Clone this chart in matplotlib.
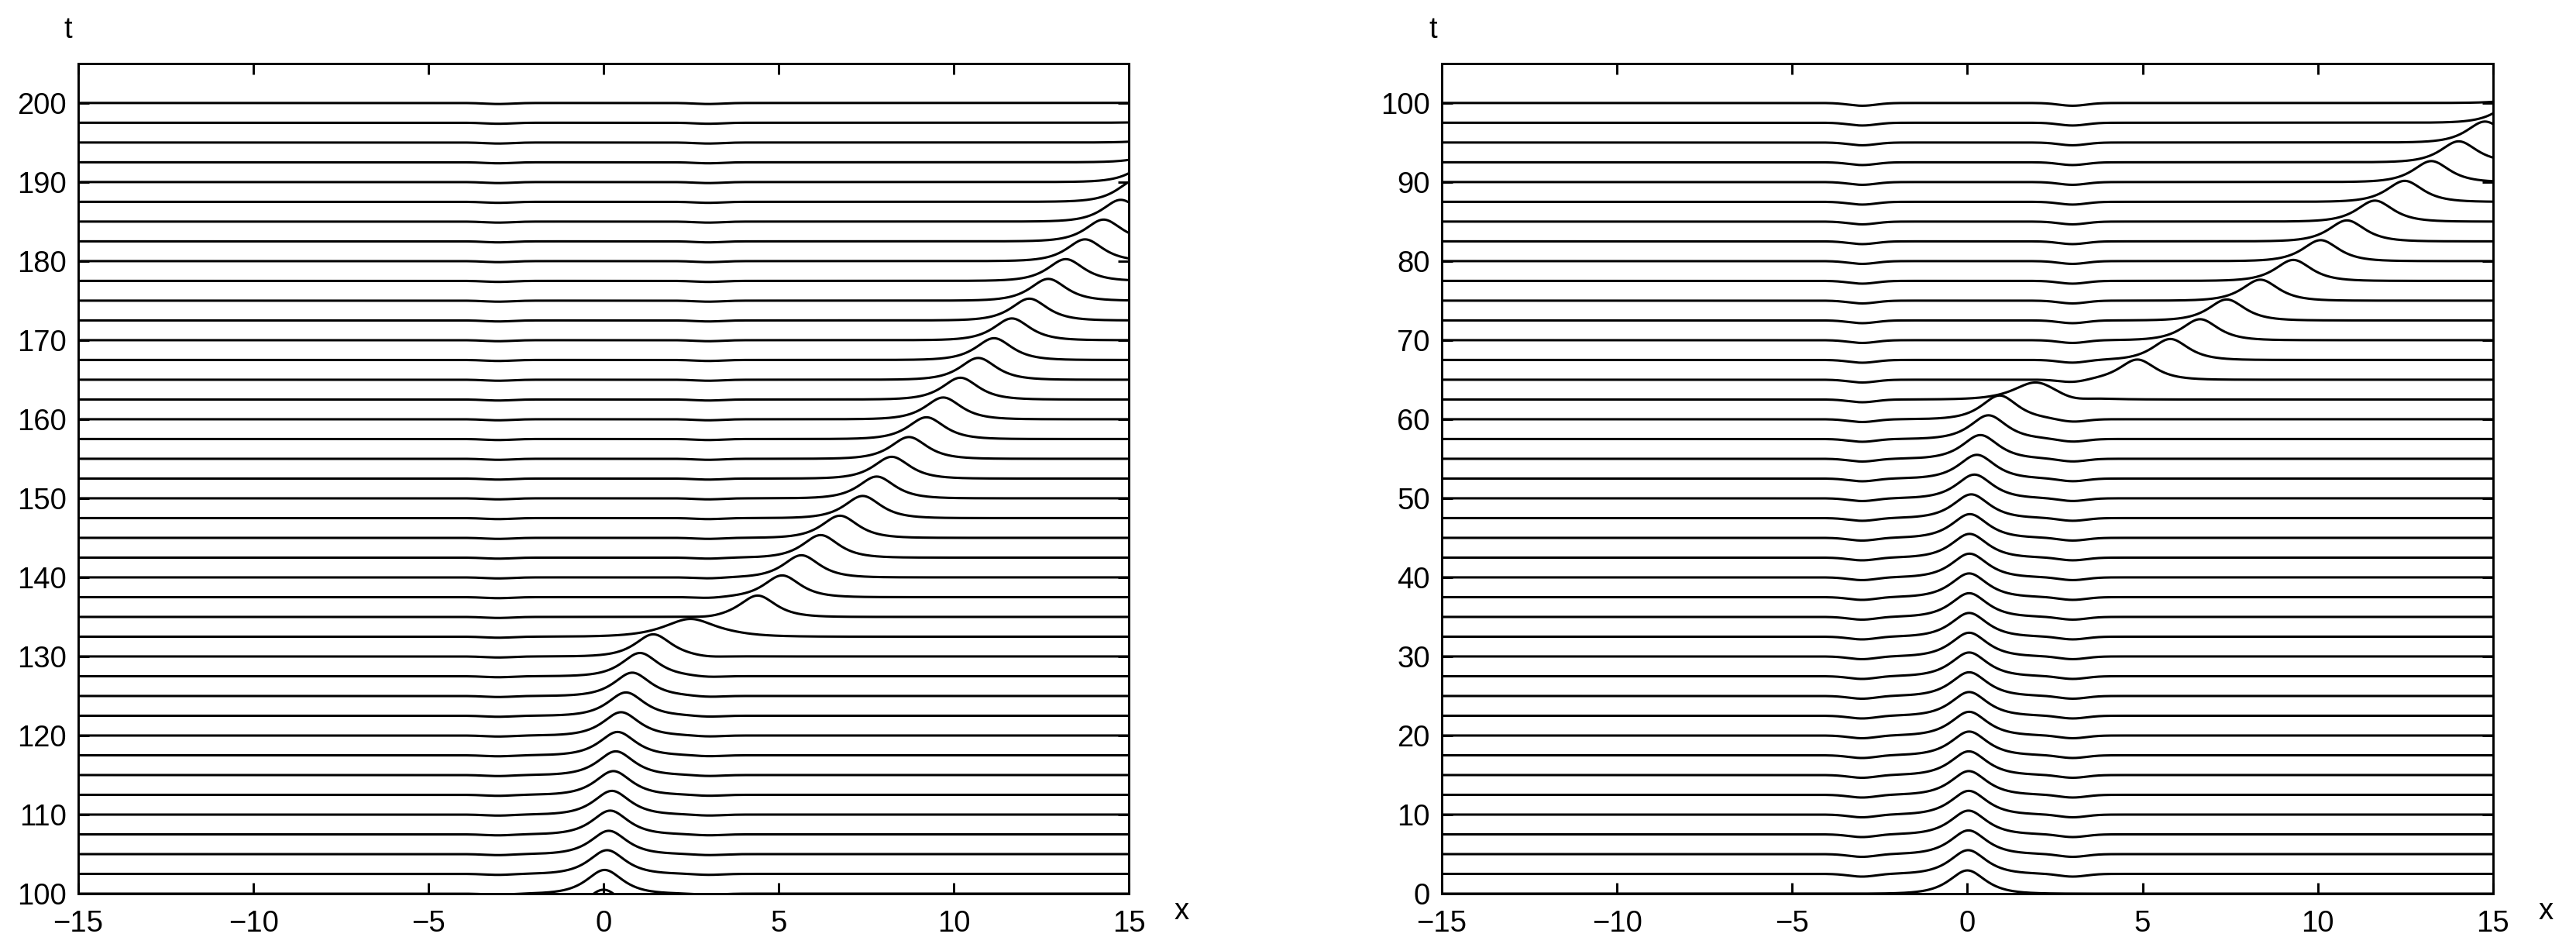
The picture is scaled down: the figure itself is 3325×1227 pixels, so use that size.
import numpy as np
import matplotlib
matplotlib.use("Agg")
import matplotlib.pyplot as plt

plt.rcParams['font.family'] = ['Liberation Sans', 'DejaVu Sans']

# x grid and ticks shared by both panels
x_ticks = [-15, -10, -5, 0, 5, 10, 15]

# left panel: t = 100..200, one profile every 2.5
left_t = [97.5, 100, 102.5, 105, 107.5, 110, 112.5, 115, 117.5, 120,
          122.5, 125, 127.5, 130, 132.5, 135, 137.5, 140, 142.5, 145,
          147.5, 150, 152.5, 155, 157.5, 160, 162.5, 165, 167.5, 170,
          172.5, 175, 177.5, 180, 182.5, 185, 187.5, 190, 192.5, 195,
          197.5, 200]
left_center = [0.0, 0.03, 0.1, 0.15, 0.19, 0.24, 0.28, 0.35, 0.4, 0.5,
               0.64, 0.82, 1.04, 1.42, 2.52, 4.4, 5.1, 5.65, 6.2, 6.75,
               7.4, 7.8, 8.23, 8.72, 9.22, 9.7, 10.19, 10.7, 11.15, 11.66,
               12.16, 12.7, 13.2, 13.75, 14.28, 14.77, 15.2, 15.7, 16.3, 16.8,
               17.3, 17.8]
left_amp = [3.0, 3.0, 3.0, 2.95, 3.0, 3.0, 3.0, 3.0, 2.95, 2.95,
            2.95, 2.95, 2.94, 2.8, 2.3, 2.7, 2.75, 2.8, 2.85, 2.8,
            2.8, 2.75, 2.75, 2.75, 2.75, 2.75, 2.75, 2.75, 2.75, 2.75,
            2.75, 2.75, 2.75, 2.75, 2.75, 2.75, 2.75, 2.75, 2.75, 2.75,
            2.75, 2.75]
left_width = [0.45] * 14 + [0.67] + [0.45] * 27
left_dip = [0.13] * 42

# right panel: t = 0..100, one profile every 2.5
right_t = [0, 2.5, 5, 7.5, 10, 12.5, 15, 17.5, 20, 22.5,
           25, 27.5, 30, 32.5, 35, 37.5, 40, 42.5, 45, 47.5,
           50, 52.5, 55, 57.5, 60, 62.5, 65, 67.5, 70, 72.5,
           75, 77.5, 80, 82.5, 85, 87.5, 90, 92.5, 95, 97.5,
           100]
right_center = [0.0, 0.02, 0.03, 0.03, 0.04, 0.04, 0.04, 0.05, 0.05, 0.05,
                0.05, 0.05, 0.05, 0.05, 0.05, 0.05, 0.06, 0.06, 0.07, 0.11,
                0.2, 0.27, 0.37, 0.6, 0.92, 1.95, 4.85, 5.79, 6.64, 7.4,
                8.36, 9.3, 10.08, 10.83, 11.63, 12.48, 13.24, 14.02, 14.77, 15.65,
                16.6]
right_amp = [2.94] + [3.0] * 24 + [2.16, 2.55] + [2.65] * 14
right_width = [0.45] * 25 + [0.55] + [0.45] * 15
right_dip = [0.0] + [0.35] * 40

dip_pos = [-3.0, 3.0]


def profile(x, c, a, w, d):
    u = a / np.cosh((x - c) / w)
    for p in dip_pos:
        u = u - d * np.exp(-((x - p) / 0.55) ** 2)
    return u


def draw_panel(ax, ts, cs, amps, ws, dips, ylim, yticks, xlab_x, tlab_x):
    x = np.linspace(-15, 15, 601)
    for t, c, a, w, d in zip(ts, cs, amps, ws, dips):
        ax.plot(x, t + profile(x, c, a, w, d), color='black', lw=2.2,
                solid_joinstyle='round')
    ax.set_xlim(-15, 15)
    ax.set_ylim(*ylim)
    ax.set_xticks(x_ticks)
    ax.set_yticks(yticks)
    ax.tick_params(direction='in', length=10, width=2.1, top=True, right=True,
                   labelsize=27.5)
    ax.tick_params(axis='x', pad=15)
    ax.tick_params(axis='y', pad=11)
    for s in ax.spines.values():
        s.set_linewidth(2.1)
    ax.set_xlabel('x', fontsize=27.5, va='center', ha='center')
    ax.xaxis.set_label_coords(xlab_x, -0.021)
    ax.set_ylabel('t', fontsize=27.5, rotation=0, va='center', ha='center')
    ax.yaxis.set_label_coords(tlab_x, 1.04)


fig = plt.figure(figsize=(33.25, 12.27), dpi=100)
ax1 = fig.add_axes([0.0304, 0.0603, 0.4078, 0.873])
ax2 = fig.add_axes([0.5597, 0.0603, 0.4081, 0.873])

draw_panel(ax1, left_t, left_center, left_amp, left_width, left_dip,
           (100, 205), list(range(100, 201, 10)), 1.050, -0.010)
draw_panel(ax2, right_t, right_center, right_amp, right_width, right_dip,
           (0, 105), list(range(0, 101, 10)), 1.050, -0.008)

fig.savefig('out.png', dpi=100)
